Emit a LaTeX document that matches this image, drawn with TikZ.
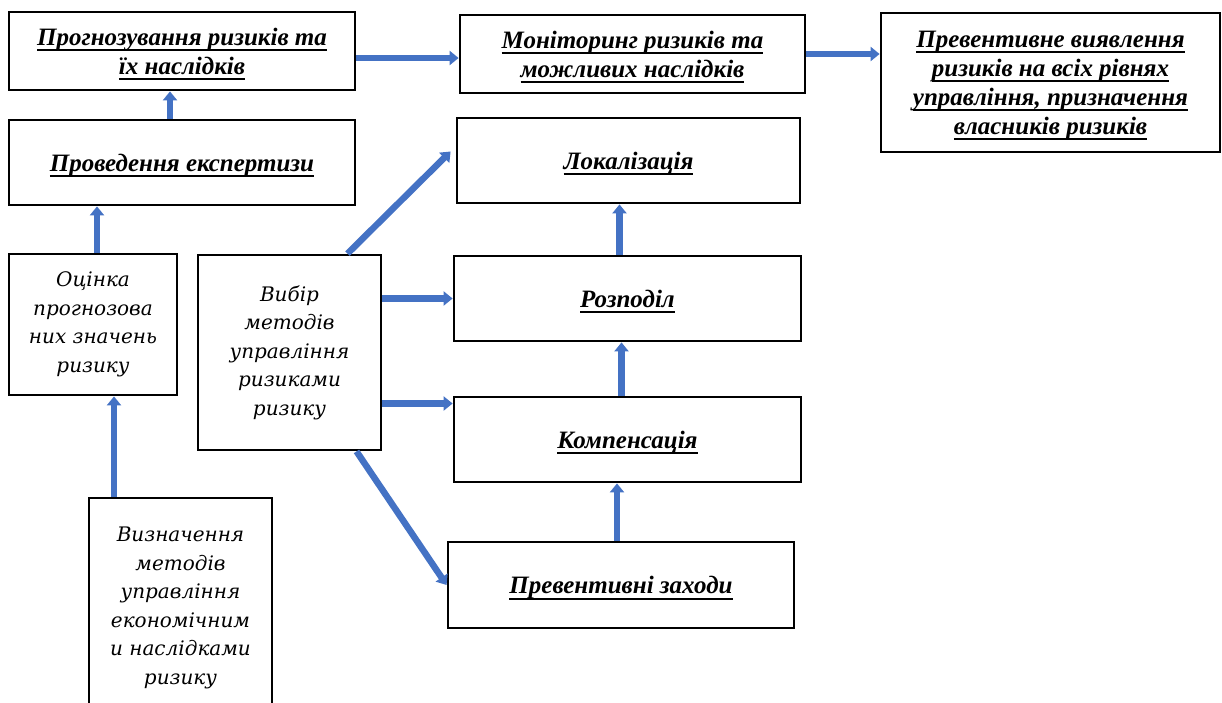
\documentclass[tikz,border=0pt]{standalone}
\usepackage{fontspec}
\setmainfont{Liberation Serif}
\newfontfamily\plainserif{DejaVu Serif}
\usetikzlibrary{arrows.meta}
\definecolor{arrowblue}{RGB}{68,114,196}
% underlined line of text
\newcommand{\uln}[1]{\setbox0\hbox{#1}\rlap{\rule[-6pt]{\wd0}{1.8pt}}\box0}

\begin{document}
\begin{tikzpicture}[x=1pt,y=-1pt,>={Triangle[length=9pt,width=14pt]},
                    line width=2.8pt,
                    bold box/.style={rectangle,draw,inner sep=0pt,align=center,text depth=-2pt,
                      font=\fontsize{25}{29}\selectfont\bfseries\itshape},
                    plain box/.style={rectangle,draw,inner sep=0pt,align=center,
                      font=\fontsize{20}{28.5}\selectfont\plainserif\itshape},
                    flow/.style={->,draw=arrowblue,line width=6.5pt}]
  \clip (0,0) rectangle (1222,702);
  % top row
  \node[bold box,minimum width=346pt,minimum height=78pt] (forecast) at (182,51)
    {\uln{Прогнозування ризиків та}\\\uln{їх наслідків}};
  \node[bold box,minimum width=345pt,minimum height=78pt] (monitor) at (632.5,54)
    {\uln{Моніторинг ризиків та}\\\uln{можливих наслідків}};
  \node[bold box,minimum width=339pt,minimum height=139pt] (detect) at (1050.5,82.5)
    {\uln{Превентивне виявлення}\\\uln{ризиків на всіх рівнях}\\
     \uln{управління, призначення}\\\uln{власників ризиків}};
  % left column
  \node[bold box,minimum width=346pt,minimum height=85pt] (expert) at (182,162.5)
    {\uln{Проведення експертизи}};
  \node[plain box,minimum width=168pt,minimum height=141pt] (estimate) at (93,324.5)
    {Оцінка\\прогнозова\\них значень\\ризику};
  \node[plain box,minimum width=183pt,minimum height=195pt] (choice) at (289.5,352.5)
    {Вибір\\методів\\управління\\ризиками\\ризику};
  \node[plain box,minimum width=183pt,minimum height=220pt] (methods) at (180.5,608)
    {Визначення\\методів\\управління\\економічним\\и наслідками\\ризику};
  % right column
  \node[bold box,minimum width=343pt,minimum height=85pt] (local) at (628.5,160.5)
    {\uln{Локалізація}};
  \node[bold box,minimum width=347pt,minimum height=85pt] (share) at (627.5,298.5)
    {\uln{Розподіл}};
  \node[bold box,minimum width=347pt,minimum height=85pt] (compens) at (627.5,439.5)
    {\uln{Компенсація}};
  \node[bold box,minimum width=346pt,minimum height=86pt] (prevent) at (621,585)
    {\uln{Превентивні заходи}};

  \path ([yshift=-7pt]forecast.east) edge[flow] ([yshift=-4pt]monitor.west)
    (monitor.east) edge[flow] (monitor.east -| detect.west)
    ([xshift=-12pt]expert.north) edge[flow] ([xshift=-12pt]forecast.south)
    ([xshift=4pt]estimate.north) edge[flow] ([xshift=4pt]estimate.north |- expert.south)
    ([xshift=21pt]estimate.south |- methods.north) edge[flow] ([xshift=21pt]estimate.south)
    ([xshift=58pt]choice.north) edge[flow] ([xshift=-5pt,yshift=9pt]local.west)
    (choice.east |- share.west) edge[flow] (share.west)
    ([yshift=36pt]compens.west -| choice.east) edge[flow] ([yshift=36pt]compens.west)
    ([xshift=67pt]choice.south) edge[flow] (prevent.west)
    ([xshift=-8pt]share.north) edge[flow] ([xshift=-8pt]share.north |- local.south)
    ([xshift=-6pt]compens.north) edge[flow] ([xshift=-6pt]compens.north |- share.south)
    ([xshift=-4pt]prevent.north) edge[flow] ([xshift=-4pt]prevent.north |- compens.south);
\end{tikzpicture}
\end{document}
